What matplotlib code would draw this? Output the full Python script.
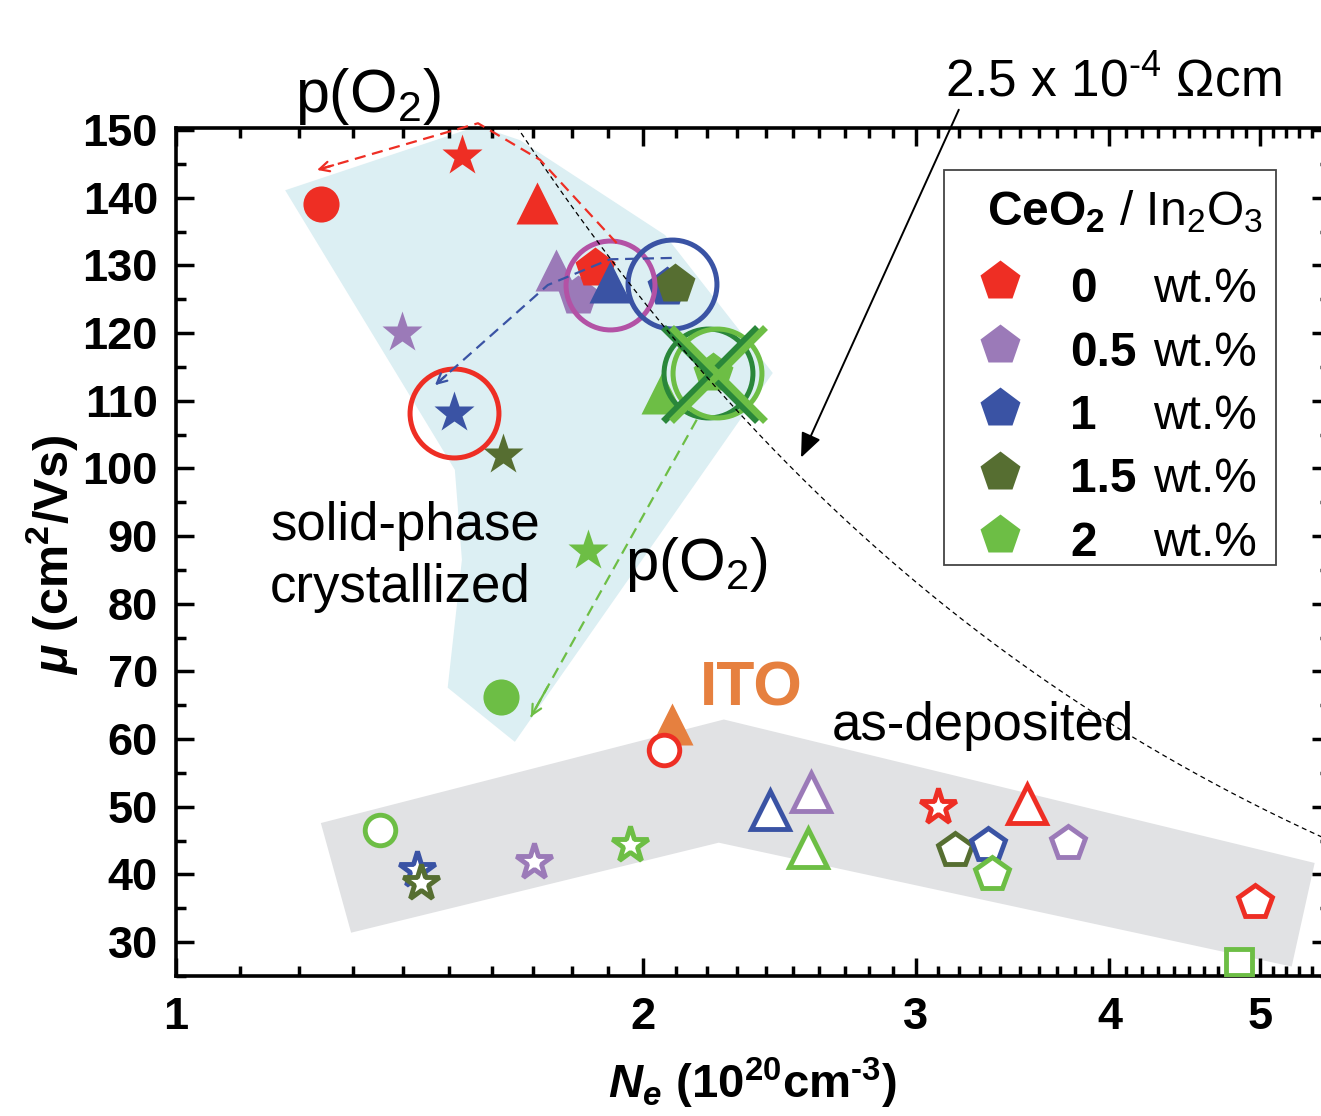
import matplotlib
matplotlib.use('Agg')
import matplotlib.pyplot as plt
import numpy as np
from matplotlib.ticker import FixedLocator, NullFormatter, MultipleLocator, FixedFormatter
from matplotlib.patches import Rectangle
from matplotlib.lines import Line2D

plt.rcParams['font.family'] = ['Liberation Sans', 'DejaVu Sans']
plt.rcParams['mathtext.fontset'] = 'custom'
plt.rcParams['mathtext.rm'] = 'Liberation Sans'
plt.rcParams['mathtext.it'] = 'Liberation Sans:italic'
plt.rcParams['mathtext.bf'] = 'Liberation Sans:bold'
plt.rcParams['mathtext.bfit'] = 'Liberation Sans:italic:bold'

# solid-phase crystallized films (filled symbols)
cryst_wt = [0, 0, 0, 0.5, 0.5, 0.5, 0, 1, 1, 1, 1.5, 1.5, 2, 2, 2, 2]
cryst_kind = ['circle', 'star', 'triangle', 'star', 'triangle', 'pentagon', 'pentagon', 'triangle',
              'star', 'pentagon', 'pentagon', 'star', 'triangle', 'pentagon', 'star', 'circle']
cryst_ne = [1.240, 1.529, 1.709, 1.399, 1.758, 1.817, 1.863, 1.905,
            1.511, 2.073, 2.098, 1.625, 2.058, 2.219, 1.844, 1.620]
cryst_mu = [139.1, 146.2, 139.2, 120.0, 129.3, 125.5, 129.6, 127.6,
            108.2, 126.8, 127.3, 102.0, 111.2, 114.1, 87.8, 66.2]

# as-deposited films (open symbols)
asdep_wt = [2, 1, 1.5, 0.5, 2, 0, 1, 0.5, 2, 0, 0, 1.5, 1, 2, 0.5, 0, 2]
asdep_kind = ['circle', 'star', 'star', 'star', 'star', 'circle', 'triangle', 'triangle', 'triangle',
              'star', 'triangle', 'pentagon', 'pentagon', 'pentagon', 'pentagon', 'pentagon', 'square']
asdep_ne = [1.354, 1.430, 1.439, 1.701, 1.962, 2.063, 2.415, 2.567, 2.555,
            3.099, 3.538, 3.178, 3.338, 3.358, 3.759, 4.963, 4.847]
asdep_mu = [46.6, 40.6, 38.8, 41.9, 44.4, 58.4, 49.6, 52.2, 43.9,
            50.0, 50.4, 43.6, 44.4, 40.0, 44.7, 36.0, 27.0]

ito_ne = [2.089]
ito_mu = [62.3]

# highlighted samples
ring_ne = [1.511, 1.905, 2.089, 2.203, 2.233]
ring_mu = [108.2, 127.1, 127.2, 114.1, 114.1]
ring_col = ['red', 'magenta', 'blue', 'darkgreen', 'green']
cross_ne = [2.210, 2.236]
cross_mu = [114.0, 114.0]
cross_col = ['darkgreen', 'green']

# shaded regions
cryst_region_ne = [1.176, 1.566, 1.667, 2.067, 2.426, 1.654, 1.497, 1.529, 1.513]
cryst_region_mu = [141.1, 150.6, 148.5, 134.5, 114.1, 59.6, 67.6, 86.5, 99.8]
asdep_region_ne = [1.240, 2.256, 5.425, 5.243, 2.239, 1.297]
asdep_region_mu = [47.6, 62.9, 41.7, 26.4, 44.7, 31.4]

# p(O2) trend arrows
red_path_ne = [1.924, 1.717, 1.566, 1.233]
red_path_mu = [133.3, 145.6, 151.0, 144.1]
blue_path_ne = [2.088, 1.905, 1.737, 1.469]
blue_path_mu = [131.1, 130.9, 127.1, 112.3]
green_path_ne = [2.167, 1.694]
green_path_mu = [107.2, 63.3]

rho = 2.5e-4  # Ohm cm
legend_wt = [0, 0.5, 1, 1.5, 2]
legend_lab = ['0', '0.5', '1', '1.5', '2']

colors = {'red': '#EE2E24', 'purple': '#9B7AB8', 'blue': '#3A53A4', 'olive': '#566E31',
          'green': '#6DBE45', 'orange': '#E6803F', 'magenta': '#B352A5', 'darkgreen': '#2A873A'}
wt_color = {0: colors['red'], 0.5: colors['purple'], 1: colors['blue'], 1.5: colors['olive'], 2: colors['green']}
kind_marker = {'circle': 'o', 'star': '*', 'triangle': '^', 'pentagon': 'p', 'square': 's'}
filled_size = {'circle': 26, 'star': 31, 'triangle': 30, 'pentagon': 30, 'square': 20}
open_size = {'circle': 22, 'star': 27, 'triangle': 27, 'pentagon': 25, 'square': 19}

fig = plt.figure(figsize=(13.21, 11.16), dpi=100)
ax = fig.add_axes([176 / 1321, 1 - 976 / 1116, (1330 - 176) / 1321, (976 - 128) / 1116])
ax.set_xscale('log')
ax.set_xlim(1, 5.55)
ax.set_ylim(25, 150.3)

ax.fill(cryst_region_ne, cryst_region_mu, color='#DCEFF3', lw=0, zorder=1)
ax.fill(asdep_region_ne, asdep_region_mu, color='#E1E2E4', lw=0, zorder=1)

for i in range(len(cryst_ne)):
    k = cryst_kind[i]
    ax.plot(cryst_ne[i], cryst_mu[i], marker=kind_marker[k], ms=filled_size[k],
            color=wt_color[cryst_wt[i]], mec='none', ls='none', zorder=3 + i * 0.01)

for i in range(len(asdep_ne)):
    k = asdep_kind[i]
    ax.plot(asdep_ne[i], asdep_mu[i], marker=kind_marker[k], ms=open_size[k],
            mfc='white', mec=wt_color[asdep_wt[i]], mew=3.5, ls='none', zorder=3 + i * 0.01)

ax.plot(ito_ne, ito_mu, marker='^', ms=30, color=colors['orange'], mec='none', ls='none', zorder=3)

for i in range(len(ring_ne)):
    ax.plot(ring_ne[i], ring_mu[i], marker='o', ms=64, mfc='none', mec=colors[ring_col[i]],
            mew=3.6, ls='none', zorder=4)
for i in range(len(cross_ne)):
    ax.plot(cross_ne[i], cross_mu[i], marker='x', ms=68, mec=colors[cross_col[i]],
            mew=5, ls='none', zorder=4)

# constant resistivity line
n_line = np.geomspace(1.6, 5.6, 300)
mu_line = 1 / (1.602e-19 * n_line * 1e20 * rho)
ax.plot(n_line, mu_line, color='black', lw=0.9, ls=(0, (4, 3)), zorder=6)


def dashed_arrow(xs, ys, c, clip=True):
    ax.plot(xs, ys, color=c, lw=1.6, ls=(0, (5, 3)), zorder=6, clip_on=clip)
    xb = xs[-1] * (xs[-2] / xs[-1]) ** 0.1
    yb = ys[-1] + 0.1 * (ys[-2] - ys[-1])
    ax.annotate('', xy=(xs[-1], ys[-1]), xytext=(xb, yb),
                arrowprops=dict(arrowstyle='->,head_length=0.7,head_width=0.35', color=c, lw=1.6,
                                shrinkA=0, shrinkB=0), zorder=6)


dashed_arrow(red_path_ne, red_path_mu, colors['red'], clip=False)
dashed_arrow(blue_path_ne, blue_path_mu, colors['blue'])
dashed_arrow(green_path_ne, green_path_mu, colors['green'])

ax.annotate('', xy=(2.53, 101.6), xytext=(3.198, 153.0), annotation_clip=False,
            arrowprops=dict(arrowstyle='-|>,head_length=0.6,head_width=0.25', color='black', lw=1.4,
                            shrinkA=0, shrinkB=0, mutation_scale=25))

# axes styling
ax.xaxis.set_major_locator(FixedLocator([1, 2, 3, 4, 5]))
ax.xaxis.set_major_formatter(FixedFormatter(['1', '2', '3', '4', '5']))
ax.xaxis.set_minor_locator(FixedLocator([v / 10 for v in range(11, 56) if v % 10 != 0]))
ax.xaxis.set_minor_formatter(NullFormatter())
ax.yaxis.set_major_locator(MultipleLocator(10))
ax.yaxis.set_minor_locator(MultipleLocator(5))
ax.tick_params(which='both', direction='in', top=True, right=True, width=2.5, labelsize=32.5)
ax.tick_params(which='major', length=13)
ax.tick_params(which='minor', length=7)
ax.tick_params(axis='y', pad=13)
ax.tick_params(axis='x', pad=15)
for lab in ax.get_xticklabels() + ax.get_yticklabels():
    lab.set_fontweight('bold')
for s in ax.spines.values():
    s.set_linewidth(2.6)


def px(x, y):
    return x / 1321, 1 - y / 1116


fig.text(*px(752, 1098), '$\\mathbfit{N}_{\\mathbfit{e}}$ (10$^{\\mathbf{20}}$cm$^{\\mathbf{\u20103}}$)',
         ha='center', va='baseline', fontsize=34, fontweight='bold')
fig.text(*px(52, 555), r'$\mathbfit{\mu}$ (cm$^{\mathbf{2}}$/Vs)', rotation=90,
         ha='center', va='center', fontsize=35, fontweight='bold')

fig.text(*px(295, 112), r'p(O$_2$)', fontsize=44, va='baseline')
fig.text(*px(625, 580), r'p(O$_2$)', fontsize=43, va='baseline')
fig.text(*px(945, 97), '2.5 x 10$^{\u20104}$ Ωcm', fontsize=37, va='baseline')
fig.text(*px(270, 540), 'solid-phase', fontsize=38, va='baseline')
fig.text(*px(270, 602), 'crystallized', fontsize=38, va='baseline')
fig.text(*px(700, 705), 'ITO', fontsize=45, fontweight='bold', color=colors['orange'], va='baseline')
fig.text(*px(832, 740), 'as-deposited', fontsize=38, va='baseline')

# legend
x0, y0 = px(944, 565)
x1, y1 = px(1276, 170)
fig.add_artist(Rectangle((x0, y0), x1 - x0, y1 - y0, transform=fig.transFigure,
                         facecolor='white', edgecolor='#444444', lw=1.3, zorder=10))
fig.text(*px(987, 225), r'$\mathbf{CeO_2}$ / In$_2$O$_3$', fontsize=34.5, va='baseline', zorder=11)
for i, wt in enumerate(legend_wt):
    yrow = 281 + i * 63.5
    fig.add_artist(Line2D([px(1000, yrow)[0]], [px(1000, yrow)[1]], transform=fig.transFigure,
                          marker='p', ms=30, color=wt_color[wt], mec='none', ls='none', zorder=11))
    fig.text(*px(1070, yrow + 21), legend_lab[i], fontsize=34.5, fontweight='bold', va='baseline', zorder=11)
    fig.text(*px(1153, yrow + 21), 'wt.%', fontsize=34.5, va='baseline', zorder=11)

fig.savefig('out.png', dpi=100)
